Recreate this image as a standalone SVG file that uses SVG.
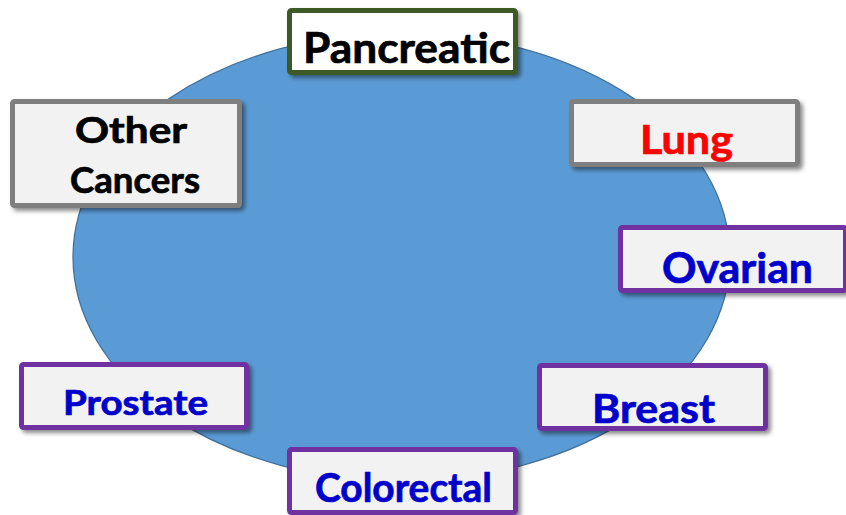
<svg xmlns="http://www.w3.org/2000/svg" width="846" height="515" viewBox="0 0 846 515">
  <defs>
    <filter id="sh" x="-10%" y="-20%" width="130%" height="150%">
      <feDropShadow dx="3" dy="3" stdDeviation="2" flood-color="#000" flood-opacity="0.45"/>
    </filter>
  </defs>
  <style>
    .box { stroke-width: 5; stroke-linejoin: round; filter: url(#sh); }
    .gray { fill: #f2f2f2; stroke: #7f7f7f; }
    .purple { fill: #f2f2f2; stroke: #7030a0; }
    .green { fill: #ffffff; stroke: #3c5a27; }
    .t { font-family: Lato, "Open Sans", "Liberation Sans", sans-serif; font-weight: bold; text-anchor: middle; stroke-width: 0.7; }
    .black { fill: #000000; stroke: #000000; }
    .red { fill: #ff0000; stroke: #ff0000; }
    .blue { fill: #0000cc; stroke: #0000cc; }
  </style>
  <rect width="846" height="515" fill="#ffffff"/>
  <g id="circle">
    <ellipse cx="401.5" cy="257" rx="328.5" ry="224" fill="#5b9bd5" stroke="#41719c" stroke-width="1.3"/>
  </g>
  <g id="connectors"></g>
  <g id="pancreatic">
    <rect class="box green" x="289.5" y="10.5" width="226" height="62" rx="2"/>
    <text class="t black" x="406.5" y="63" font-size="42" textLength="207" lengthAdjust="spacingAndGlyphs">Pancreatic</text>
  </g>
  <g id="other">
    <rect class="box gray" x="12.5" y="101.5" width="227" height="104" rx="2"/>
    <text class="t black" x="131" y="143" font-size="36" textLength="112" lengthAdjust="spacingAndGlyphs">Other</text>
    <text class="t black" x="135" y="193" font-size="36" textLength="130" lengthAdjust="spacingAndGlyphs">Cancers</text>
  </g>
  <g id="lung">
    <rect class="box gray" x="571.5" y="101.5" width="226" height="63" rx="2"/>
    <text class="t red" x="686.5" y="154" font-size="40" textLength="93" lengthAdjust="spacingAndGlyphs">Lung</text>
  </g>
  <g id="ovarian">
    <rect class="box purple" x="620.5" y="227.5" width="225" height="63" rx="2"/>
    <text class="t blue" x="737.5" y="283" font-size="42" textLength="151" lengthAdjust="spacingAndGlyphs">Ovarian</text>
  </g>
  <g id="prostate">
    <rect class="box purple" x="21.5" y="364.5" width="225" height="63" rx="2"/>
    <text class="t blue" x="135.5" y="415" font-size="35" textLength="145" lengthAdjust="spacingAndGlyphs">Prostate</text>
  </g>
  <g id="breast">
    <rect class="box purple" x="539.5" y="365.5" width="226" height="63" rx="2"/>
    <text class="t blue" x="653.5" y="423" font-size="40" textLength="123" lengthAdjust="spacingAndGlyphs">Breast</text>
  </g>
  <g id="colorectal">
    <rect class="box purple" x="289.5" y="449.5" width="226" height="63" rx="2"/>
    <text class="t blue" x="403.5" y="502" font-size="40" textLength="177" lengthAdjust="spacingAndGlyphs">Colorectal</text>
  </g>
</svg>
